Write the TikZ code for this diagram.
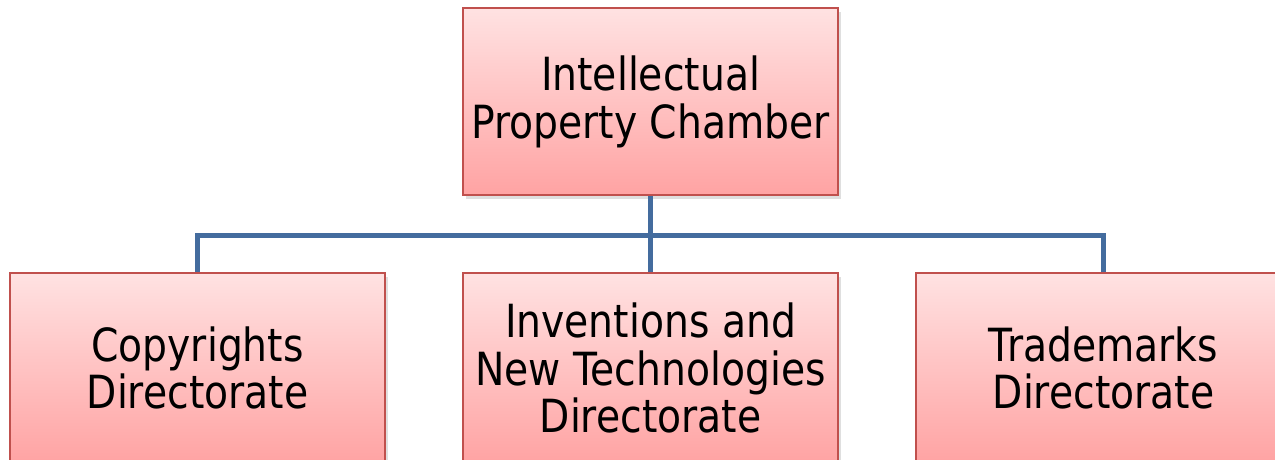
\documentclass[tikz,border=0pt]{standalone}
\usepackage{fontspec}
\setmainfont[FakeStretch=0.86]{DejaVu Sans}
\usetikzlibrary{shadows}
\definecolor{borde}{RGB}{192,80,77}
\definecolor{rosa1}{RGB}{255,226,226}
\definecolor{rosa2}{RGB}{255,163,163}
\definecolor{azul}{RGB}{68,108,158}
\begin{document}
\begin{tikzpicture}

	\tikzstyle{caja}=[rectangle, draw=borde, line width=1pt, top color=rosa1, bottom color=rosa2, minimum width=7.5cm, minimum height=3.74cm, inner sep=0pt, align=center, font=\fontsize{26}{27.2}\selectfont, drop shadow={opacity=0.25, shadow xshift=0.05cm, shadow yshift=-0.07cm}]
	\tikzstyle{baja}=[minimum height=3.8cm]
	\tikzstyle{linea}=[azul, line width=0.1cm]

	\useasboundingbox (0, 0) rectangle (25.5, -9.18);

	\coordinate (chamber) at (13.01, -2.03); % CAMARA
	\coordinate (dir_1) at (3.95, -7.36); % DIRECCIONES
	\coordinate (dir_2) at (13.01, -7.36); % DIRECCIONES
	\coordinate (dir_3) at (22.07, -7.36); % DIRECCIONES
	\coordinate (bus_1) at (3.95, -4.7);
	\coordinate (bus_3) at (22.07, -4.7);

	\node[caja] (chamber) at (chamber) {Intellectual\\Property Chamber}; % CAMARA
	\node[caja, baja] (dir_1) at (dir_1) {Copyrights\\Directorate}; % DIRECCIONES
	\node[caja, baja] (dir_2) at (dir_2) {Inventions and\\New Technologies\\Directorate}; % DIRECCIONES
	\node[caja, baja] (dir_3) at (dir_3) {Trademarks\\Directorate}; % DIRECCIONES

	%%%%%%%%%%%%%%%%%%%%%%%%%%%%%%%%%
	%%%%%%%% CONEXIONES %%%%%%%%
	\draw[linea] (chamber.south) -- (dir_2.north);
	\draw[linea] (dir_1.north) -- (bus_1) -- (bus_3) -- (dir_3.north);
	%%%%%%%%%%%%%%%%%%%%%%%%%%%%%%%%%

\end{tikzpicture}
\end{document}
